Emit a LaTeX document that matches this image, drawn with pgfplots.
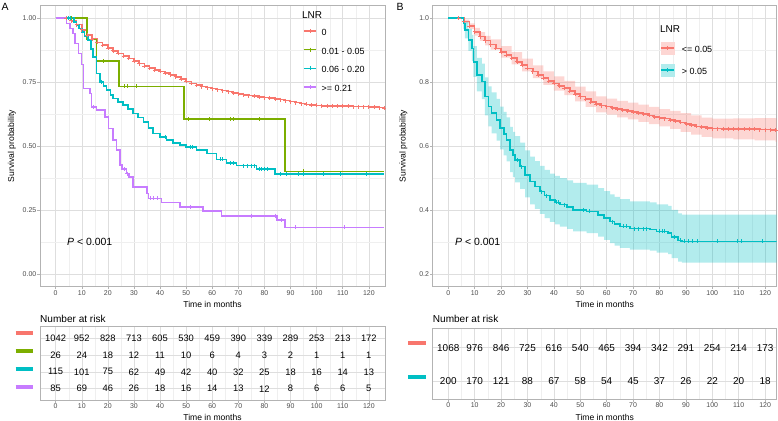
\documentclass[border=0pt]{standalone}
\usepackage{pgfplots}
\usepackage{pgfplotstable}
\pgfplotsset{compat=1.18}
\usepackage{fontspec}
\setmainfont{Liberation Sans}
\definecolor{cR}{HTML}{F8766D}
\definecolor{cG}{HTML}{7CAE00}
\definecolor{cC}{HTML}{00BFC4}
\definecolor{cP}{HTML}{C77CFF}
\definecolor{tickgray}{HTML}{4D4D4D}
\definecolor{bordergray}{HTML}{B3B3B3}
\definecolor{gridmaj}{HTML}{DEDEDE}
\definecolor{gridmin}{HTML}{EFEFEF}

\pgfplotstableread{
t S
0 1.000
4 1.000
6 0.990
8 0.975
10 0.958
12 0.943
14 0.930
16 0.918
18 0.906
20 0.895
22 0.885
24 0.875
26 0.864
28 0.854
30 0.843
32 0.833
34 0.823
36 0.813
38 0.803
40 0.796
42 0.789
44 0.782
46 0.773
48 0.763
50 0.755
52 0.747
54 0.738
56 0.731
58 0.727
60 0.724
62 0.720
64 0.716
66 0.713
68 0.710
70 0.706
72 0.703
74 0.700
76 0.696
78 0.692
80 0.689
82 0.686
84 0.682
86 0.678
88 0.674
90 0.670
92 0.666
94 0.662
96 0.659
98 0.656
100 0.655
102 0.655
104 0.654
106 0.654
108 0.654
110 0.653
112 0.653
114 0.653
116 0.653
118 0.652
120 0.652
122 0.651
124 0.650
126 0.648
}\redB

\pgfplotstableread{
t S
0 1.000
3.8 1.000
5.7 0.984
6.3 0.963
7.6 0.932
8.9 0.906
9.5 0.864
10.8 0.823
12.7 0.802
13.9 0.755
15.2 0.724
16.4 0.703
18.3 0.682
19.6 0.656
21.0 0.638
22.1 0.620
23.4 0.588
24.5 0.572
25.3 0.557
27.2 0.536
29.1 0.510
31.0 0.489
32.8 0.474
34.7 0.458
36.5 0.445
38.5 0.432
40.4 0.424
42.3 0.417
45.0 0.410
47.3 0.401
52.4 0.396
56.8 0.385
59.0 0.375
61.3 0.364
63.0 0.356
65.0 0.349
68.8 0.342
76.4 0.339
78.9 0.333
83.3 0.328
84.6 0.316
87.1 0.305
88.5 0.302
126 0.302
}\cyanB

\pgfplotsset{
  kmbase/.style={
    scale only axis,
    anchor=south west,
    xmin=-6, xmax=126.2,
    xtick={0,10,...,120},
    minor x tick num=1,
    tick pos=left,
    tick align=outside,
    major tick length=2.5bp,
    minor tick length=0bp,
    tick style={bordergray, line width=0.5bp},
    axis line style={bordergray, line width=0.6bp},
    grid=both,
    major grid style={gridmaj, line width=0.5bp},
    minor grid style={gridmin, line width=0.35bp},
    ticklabel style={font=\fontsize{7}{8}\selectfont, text=tickgray},
    /pgf/number format/assume math mode=true,
    xticklabel style={inner sep=1bp},
    yticklabel style={inner sep=1bp},
    label style={font=\fontsize{8.6}{10}\selectfont},
    xlabel={Time in months},
  },
  km/.style={const plot, line width=1.6bp, mark=+, mark size=2bp, mark options={line width=0.7bp, solid}, forget plot},
  cmark/.style={only marks, mark=+, mark size=2bp, mark options={line width=0.7bp, solid}, forget plot},
  risknum/.style={draw=none, mark=none, forget plot, nodes near coords, point meta=explicit symbolic,
    every node near coord/.append style={anchor=center, inner sep=0pt, text=black}},
}

\begin{document}
\begin{tikzpicture}
\useasboundingbox (0,0) rectangle (778bp,421bp);

%================ Panel A main =================
\begin{axis}[kmbase, at={(40bp,134.2bp)}, width=345bp, height=281.3bp,
  ymin=-0.05, ymax=1.05, ytick={0,0.25,0.5,0.75,1}, minor ytick={0.125,0.375,0.625,0.875},
  yticklabel style={/pgf/number format/fixed,/pgf/number format/fixed zerofill,/pgf/number format/precision=2},
  ylabel={Survival probability},
  ylabel style={at={(axis description cs:-0.0812,0.5)}, anchor=center},
  xlabel style={at={(axis description cs:0.5,-0.0615)}, anchor=center},
  legend style={at={(axis cs:94.75,0.9588)}, anchor=north west, draw=none, fill=none, inner sep=0pt,
    row sep=10.2bp, column sep=5bp, font=\fontsize{9}{10.8}\selectfont,
    nodes={inner sep=0pt, text height=6.5bp, text depth=1.8bp}},
  legend cell align=left,
  legend image code/.code={\draw[mark repeat=2,mark phase=2,#1] plot coordinates {(0bp,2.3bp) (6bp,2.3bp) (12bp,2.3bp)};},
]
% LNR = 0
\addplot[km, cR, mark phase=2] coordinates {
(0,1.000) (4,1.000) (6,0.990) (8,0.975) (10,0.955) (12,0.935) (14,0.918) (16,0.906) (18,0.895) (20,0.884)
(22,0.873) (24,0.863) (26,0.853) (28,0.843) (30,0.833) (32,0.823) (34,0.813) (36,0.805) (38,0.798) (40,0.792)
(42,0.786) (44,0.779) (46,0.771) (48,0.762) (50,0.753) (52,0.745) (54,0.738) (56,0.733) (58,0.729) (60,0.725)
(62,0.721) (64,0.717) (66,0.713) (68,0.709) (70,0.705) (72,0.701) (74,0.698) (76,0.695) (78,0.692) (80,0.690)
(82,0.688) (84,0.685) (86,0.682) (88,0.678) (90,0.674) (92,0.670) (94,0.666) (96,0.663) (98,0.660) (100,0.659)
(102,0.658) (104,0.658) (106,0.657) (108,0.657) (110,0.656) (112,0.656) (114,0.655) (116,0.655) (118,0.655)
(120,0.654) (122,0.653) (124,0.651) (126,0.649)};
% LNR 0.01 - 0.05
\addplot[km, cG, mark=none] coordinates {
(0,1.000) (12.1,0.917) (15.7,0.833) (24.2,0.734) (49.2,0.605) (87.9,0.401) (126,0.401)};
\addplot[cmark, cG] coordinates {
(5,1.000) (6,1.000) (18.2,0.833) (26.5,0.734) (27.4,0.734) (31,0.734) (50.7,0.605) (59,0.605)
(67,0.605) (68,0.605) (78,0.605) (95,0.401)};
% LNR 0.06 - 0.20
\addplot[km, cC, mark=none] coordinates {
(0,1.000) (6,1.000) (7,0.986) (8,0.973) (9,0.960) (10,0.946) (11,0.930) (12.5,0.914) (13.5,0.880)
(14.4,0.849) (15.7,0.784) (17,0.751) (18.3,0.735) (19.5,0.719) (21,0.700) (22,0.686) (24,0.673)
(25.9,0.660) (27.8,0.645) (29.7,0.628) (31.6,0.612) (33.6,0.595) (35.5,0.572) (37.4,0.550) (40,0.536)
(42.5,0.523) (45,0.513) (47.6,0.504) (50,0.497) (54,0.484) (57.9,0.471) (61.7,0.448) (65.5,0.435)
(69.3,0.424) (77,0.411) (84,0.391) (126,0.391)};
\addplot[cmark, cC] coordinates {
(5,1.000) (5.5,1.000) (17.5,0.751) (41.9,0.536) (51.5,0.497) (52.5,0.497) (63,0.448) (64,0.448)
(67,0.435) (68,0.435) (72,0.424) (73.5,0.424) (75,0.424) (76,0.424) (78,0.411) (79,0.411) (80,0.411)
(81,0.411) (86,0.391) (88.4,0.391) (93,0.391) (94.9,0.391) (102.5,0.391) (109,0.391) (119,0.391)};
% LNR >= 0.21
\addplot[km, cP, mark=none] coordinates {
(0,1.000) (4.2,0.979) (5.5,0.960) (6.7,0.940) (7.4,0.901) (8.7,0.862) (9.9,0.820) (10.6,0.725)
(13.1,0.706) (13.8,0.654) (15.7,0.641) (18.9,0.615) (20.2,0.569) (22,0.523) (23.3,0.484) (24.6,0.426)
(25.5,0.410) (27.2,0.393) (28,0.380) (29.7,0.341) (34.9,0.315) (35.5,0.296) (40.6,0.280) (47.6,0.263)
(56.5,0.246) (63.6,0.228) (84.7,0.211) (87.9,0.182) (126,0.182)};
\addplot[cmark, cP] coordinates {
(14.5,0.654) (26.5,0.410) (27.5,0.393) (36.3,0.296) (37.5,0.296) (38.8,0.296) (51.8,0.263)
(75,0.228) (84,0.228) (86.5,0.211) (91.7,0.182) (110.8,0.182)};

\addlegendimage{cR, line width=1.6bp, mark=+, mark size=2bp, mark options={line width=0.7bp}}
\addlegendentry{0}
\addlegendimage{cG, line width=1.6bp, mark=+, mark size=2bp, mark options={line width=0.7bp}}
\addlegendentry{0.01 - 0.05}
\addlegendimage{cC, line width=1.6bp, mark=+, mark size=2bp, mark options={line width=0.7bp}}
\addlegendentry{0.06 - 0.20}
\addlegendimage{cP, line width=1.6bp, mark=+, mark size=2bp, mark options={line width=0.7bp}}
\addlegendentry{>= 0.21}
\end{axis}

%================ Panel A risk table =================
\begin{axis}[kmbase, at={(40bp,21bp)}, width=345bp, height=73.3bp,
  ymin=0.335, ymax=4.665, ytick={1,2,3,4}, yticklabels={}, minor y tick num=0,
  ytick style={draw=none}, clip=false,
  xlabel style={at={(axis description cs:0.5,-0.232)}, anchor=center},
  every node near coord/.append style={font=\fontsize{9.4}{11}\selectfont},
]
\addplot[risknum] coordinates {(0,4)[1042] (10,4)[952] (20,4)[828] (30,4)[713] (40,4)[605] (50,4)[530] (60,4)[459] (70,4)[390] (80,4)[339] (90,4)[289] (100,4)[253] (110,4)[213] (120,4)[172]};
\addplot[risknum] coordinates {(0,3)[26] (10,3)[24] (20,3)[18] (30,3)[12] (40,3)[11] (50,3)[10] (60,3)[6] (70,3)[4] (80,3)[3] (90,3)[2] (100,3)[1] (110,3)[1] (120,3)[1]};
\addplot[risknum] coordinates {(0,2)[115] (10,2)[101] (20,2)[75] (30,2)[62] (40,2)[49] (50,2)[42] (60,2)[40] (70,2)[32] (80,2)[25] (90,2)[18] (100,2)[16] (110,2)[14] (120,2)[13]};
\addplot[risknum] coordinates {(0,1)[85] (10,1)[69] (20,1)[46] (30,1)[26] (40,1)[18] (50,1)[16] (60,1)[14] (70,1)[13] (80,1)[12] (90,1)[8] (100,1)[6] (110,1)[6] (120,1)[5]};
\addplot[cR, line width=4bp, forget plot] coordinates {(-15.3,4.275) (-8.6,4.275)};
\addplot[cG, line width=4bp, forget plot] coordinates {(-15.3,3.23) (-8.6,3.23)};
\addplot[cC, line width=4bp, forget plot] coordinates {(-15.3,2.17) (-8.6,2.17)};
\addplot[cP, line width=4bp, forget plot] coordinates {(-15.3,1.12) (-8.6,1.12)};
\end{axis}

%================ Panel B main =================
\begin{axis}[kmbase, at={(432.7bp,134.2bp)}, width=344bp, height=281.3bp,
  xmin=-5.9, xmax=124.4,
  ymin=0.16, ymax=1.04, ytick={0.2,0.4,0.6,0.8,1}, minor ytick={0.3,0.5,0.7,0.9},
  yticklabel style={/pgf/number format/fixed,/pgf/number format/fixed zerofill,/pgf/number format/precision=1},
  ylabel={Survival probability},
  ylabel style={at={(axis description cs:-0.0855,0.5)}, anchor=center},
  xlabel style={at={(axis description cs:0.5,-0.0615)}, anchor=center},
  legend style={at={(axis cs:80.2,0.926)}, anchor=north west, draw=none, fill=none, inner sep=0pt,
    row sep=9.7bp, column sep=6.7bp, font=\fontsize{9}{10.8}\selectfont,
    nodes={inner sep=0pt, text height=6.5bp, text depth=1.8bp}},
  legend cell align=left,
]
% confidence band, LNR <= 0.05 (upper edge forward, lower edge back)
\addplot[fill=cR, fill opacity=0.3, draw=none, forget plot] coordinates {
(0,1) (6,1) (6,.996) (8,.996) (8,.984) (10,.984) (10,.970) (12,.970) (12,.957) (14,.957) (14,.945) (16,.945)
(16,.934) (20,.934) (20,.913) (24,.913) (24,.894) (28,.894) (28,.874) (32,.874) (32,.853) (36,.853) (36,.834)
(40,.834) (40,.818) (44,.818) (44,.804) (48,.804) (48,.786) (52,.786) (52,.771) (56,.771) (56,.756) (60,.756)
(60,.749) (64,.749) (64,.742) (68,.742) (68,.736) (72,.736) (72,.730) (76,.730) (76,.723) (80,.723) (80,.716)
(84,.716) (84,.710) (88,.710) (88,.703) (92,.703) (92,.696) (96,.696) (96,.689) (100,.689) (100,.686) (108,.686)
(108,.687) (116,.687) (116,.688) (124,.688) (124,.687) (126,.687)
(126,.613) (124,.613) (124,.618) (116,.618) (116,.621) (108,.621) (108,.624) (100,.624) (100,.629) (96,.629)
(96,.636) (92,.636) (92,.645) (88,.645) (88,.654) (84,.654) (84,.662) (80,.662) (80,.669) (76,.669) (76,.676)
(72,.676) (72,.684) (68,.684) (68,.690) (64,.690) (64,.699) (60,.699) (60,.706) (56,.706) (56,.723) (52,.723)
(52,.740) (48,.740) (48,.760) (44,.760) (44,.774) (40,.774) (40,.792) (36,.792) (36,.813) (32,.813) (32,.834)
(28,.834) (28,.856) (24,.856) (24,.877) (20,.877) (20,.902) (16,.902) (16,.915) (14,.915) (14,.929) (12,.929)
(12,.946) (10,.946) (10,.966) (8,.966) (8,.984) (6,.984) (6,1) (0,1)};
% confidence band, LNR > 0.05
\addplot[fill=cC, fill opacity=0.3, draw=none, forget plot] coordinates {
(0,1) (6.3,1) (6.3,.990) (7.6,.990) (7.6,.967) (8.9,.967) (8.9,.948) (9.5,.948) (9.5,.913) (10.8,.913)
(10.8,.876) (12.7,.876) (12.7,.858) (13.9,.858) (13.9,.815) (15.2,.815) (15.2,.787) (16.4,.787) (16.4,.768)
(18.3,.768) (18.3,.748) (19.6,.748) (19.6,.724) (21,.724) (21,.707) (22.1,.707) (22.1,.690) (23.4,.690)
(23.4,.660) (24.5,.660) (24.5,.645) (25.3,.645) (25.3,.631) (27.2,.631) (27.2,.611) (29.1,.611) (29.1,.587)
(31,.587) (31,.567) (32.8,.567) (32.8,.553) (34.7,.553) (34.7,.538) (36.5,.538) (36.5,.526) (38.5,.526)
(38.5,.514) (40.4,.514) (40.4,.507) (42.3,.507) (42.3,.500) (45,.500) (45,.493) (47.3,.493) (47.3,.485)
(52.4,.485) (52.4,.480) (56.8,.480) (56.8,.469) (59,.469) (59,.459) (61.3,.459) (61.3,.449) (63,.449)
(63,.441) (65,.441) (65,.434) (68.8,.434) (68.8,.427) (76.4,.427) (76.4,.424) (78.9,.424) (78.9,.418)
(83.3,.418) (83.3,.413) (84.6,.413) (84.6,.401) (87.1,.401) (87.1,.390) (88.5,.390) (88.5,.386) (126,.386)
(126,.236) (88.5,.236) (88.5,.239) (87.1,.239) (87.1,.250) (84.6,.250) (84.6,.262) (83.3,.262) (83.3,.267)
(78.9,.267) (78.9,.273) (76.4,.273) (76.4,.276) (68.8,.276) (68.8,.282) (65,.282) (65,.289) (63,.289)
(63,.297) (61.3,.297) (61.3,.307) (59,.307) (59,.317) (56.8,.317) (56.8,.328) (52.4,.328) (52.4,.333)
(47.3,.333) (47.3,.341) (45,.341) (45,.348) (42.3,.348) (42.3,.355) (40.4,.355) (40.4,.363) (38.5,.363)
(38.5,.375) (36.5,.375) (36.5,.388) (34.7,.388) (34.7,.404) (32.8,.404) (32.8,.418) (31,.418) (31,.440)
(29.1,.440) (29.1,.466) (27.2,.466) (27.2,.487) (25.3,.487) (25.3,.503) (24.5,.503) (24.5,.519) (23.4,.519)
(23.4,.552) (22.1,.552) (22.1,.571) (21,.571) (21,.590) (19.6,.590) (19.6,.617) (18.3,.617) (18.3,.640)
(16.4,.640) (16.4,.662) (15.2,.662) (15.2,.696) (13.9,.696) (13.9,.747) (12.7,.747) (12.7,.771) (10.8,.771)
(10.8,.817) (9.5,.817) (9.5,.866) (8.9,.866) (8.9,.898) (7.6,.898) (7.6,.937) (6.3,.937) (6.3,.966)
(5.7,.966) (5.7,1) (0,1)};

\addplot[km, cR, mark phase=2] table[x=t,y=S]{\redB};
\addplot[km, cC, mark=none] table[x=t,y=S]{\cyanB};
\addplot[cmark, cC] coordinates {
(26,0.557) (27.8,0.536) (35.2,0.458) (37.2,0.445) (40.8,0.424) (41.6,0.424) (44,0.417) (51,0.401)
(53.5,0.396) (62,0.364) (66.5,0.349) (67.3,0.349) (70.5,0.342) (72,0.342) (74,0.342) (75,0.342)
(79.8,0.333) (81,0.333) (82,0.333) (85.6,0.316) (88,0.305) (89.5,0.302) (91,0.302) (92.5,0.302)
(94.5,0.302) (102,0.302) (109.5,0.302) (111,0.302) (119,0.302)};

\addlegendimage{legend image code/.code={
  \fill[cR!30] (0bp,-3.5bp) rectangle (13.3bp,8.1bp);
  \draw[cR, line width=1.6bp, mark=+, mark size=2bp, mark options={line width=0.7bp}, mark repeat=2, mark phase=2] plot coordinates {(0bp,2.3bp) (6.65bp,2.3bp) (13.3bp,2.3bp)};}}
\addlegendentry{<= 0.05}
\addlegendimage{legend image code/.code={
  \fill[cC!30] (0bp,-3.5bp) rectangle (13.3bp,8.1bp);
  \draw[cC, line width=1.6bp, mark=+, mark size=2bp, mark options={line width=0.7bp}, mark repeat=2, mark phase=2] plot coordinates {(0bp,2.3bp) (6.65bp,2.3bp) (13.3bp,2.3bp)};}}
\addlegendentry{> 0.05}
\end{axis}

%================ Panel B risk table =================
\begin{axis}[kmbase, at={(432.7bp,21.7bp)}, width=344bp, height=71bp,
  xmin=-5.9, xmax=124.4,
  ymin=0.45, ymax=2.58, ytick={1,2}, yticklabels={}, minor y tick num=0,
  ytick style={draw=none}, clip=false,
  xlabel style={at={(axis description cs:0.5,-0.249)}, anchor=center},
  every node near coord/.append style={font=\fontsize{10}{12}\selectfont},
]
\addplot[risknum] coordinates {(0,2)[1068] (10,2)[976] (20,2)[846] (30,2)[725] (40,2)[616] (50,2)[540] (60,2)[465] (70,2)[394] (80,2)[342] (90,2)[291] (100,2)[254] (110,2)[214] (120,2)[173]};
\addplot[risknum] coordinates {(0,1)[200] (10,1)[170] (20,1)[121] (30,1)[88] (40,1)[67] (50,1)[58] (60,1)[54] (70,1)[45] (80,1)[37] (90,1)[26] (100,1)[22] (110,1)[20] (120,1)[18]};
\addplot[cR, line width=4bp, forget plot] coordinates {(-15.2,2.13) (-8.4,2.13)};
\addplot[cC, line width=4bp, forget plot] coordinates {(-15.2,1.128) (-8.4,1.128)};
\end{axis}

%================ Annotations =================
\node[anchor=center, font=\fontsize{10.5}{12}\selectfont] at (5bp,414.3bp) {A};
\node[anchor=center, font=\fontsize{10.5}{12}\selectfont] at (400bp,414bp) {B};
\node[anchor=west, inner sep=0pt, font=\fontsize{10}{12}\selectfont] at (302bp,406bp) {LNR};
\node[anchor=west, inner sep=0pt, font=\fontsize{10}{12}\selectfont] at (660bp,392bp) {LNR};
\node[anchor=west, inner sep=0pt, font=\fontsize{10.5}{12}\selectfont] at (67bp,179.3bp) {\textit{P} < 0.001};
\node[anchor=west, inner sep=0pt, font=\fontsize{10.5}{12}\selectfont] at (455bp,179.3bp) {\textit{P} < 0.001};
\node[anchor=west, inner sep=0pt, font=\fontsize{10.1}{12}\selectfont] at (40bp,102bp) {Number at risk};
\node[anchor=west, inner sep=0pt, font=\fontsize{10.1}{12}\selectfont] at (432.7bp,101.7bp) {Number at risk};
\end{tikzpicture}
\end{document}
